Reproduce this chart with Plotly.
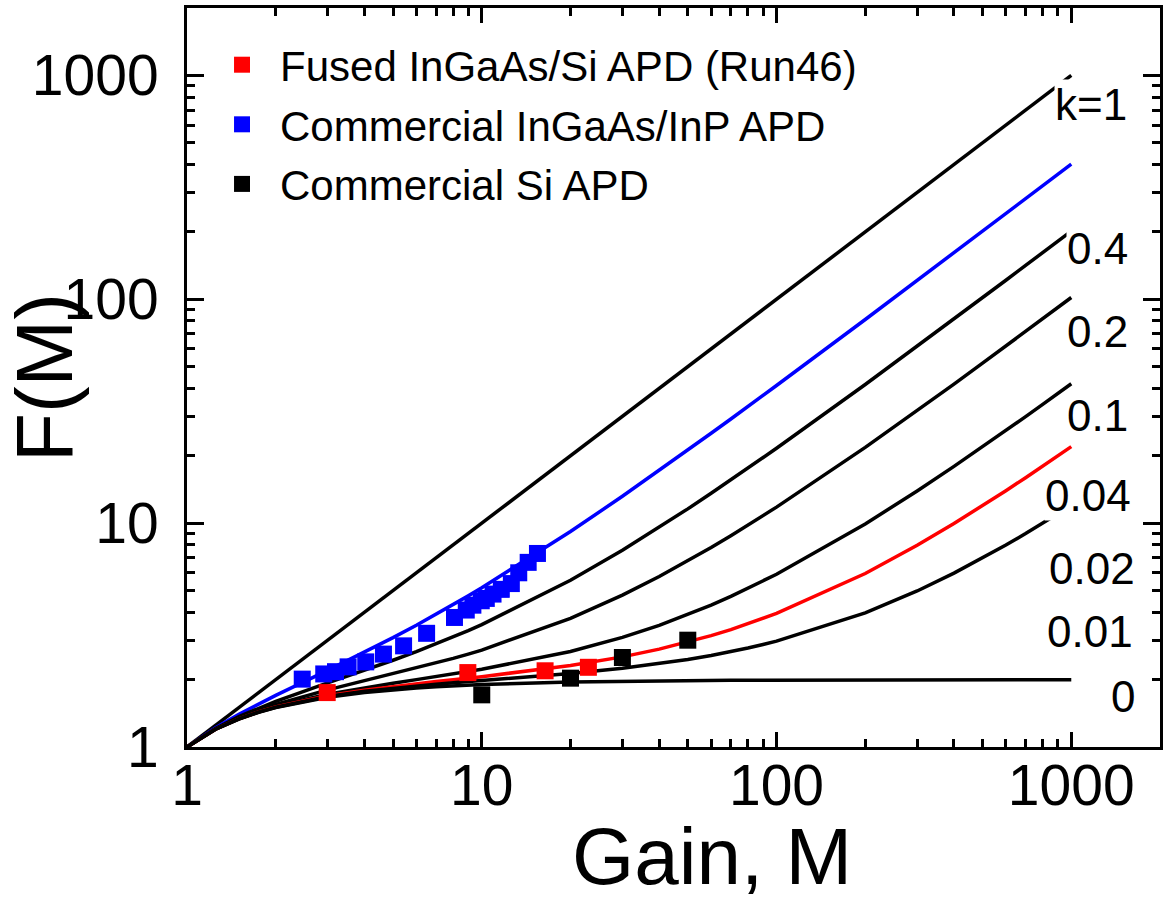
import plotly.graph_objects as go

# Gain grid for the theoretical excess-noise curves
gain = [1, 1.25, 1.5, 1.75, 2, 3, 4, 5, 6, 7, 8, 9, 10, 20, 30, 40, 50, 60, 70, 80, 90, 100,
        200, 300, 400, 500, 600, 700, 800, 900, 1000]

f_k1 = [1, 1.25, 1.5, 1.75, 2, 3, 4, 5, 6, 7, 8, 9, 10, 20, 30, 40, 50, 60, 70, 80, 90, 100,
        200, 300, 400, 500, 600, 700, 800, 900, 1000]
f_k04 = [1, 1.22, 1.4, 1.557, 1.7, 2.2, 2.65, 3.08, 3.5, 3.914, 4.325, 4.733, 5.14, 9.17, 13.18, 17.19,
         21.19, 25.19, 29.19, 33.19, 37.19, 41.19, 81.2, 121.2, 161.2, 201.2, 241.2, 281.2, 321.2, 361.2, 401.2]
f_k02 = [1, 1.21, 1.367, 1.493, 1.6, 1.933, 2.2, 2.44, 2.667, 2.886, 3.1, 3.311, 3.52, 5.56, 7.573, 9.58,
         11.58, 13.59, 15.59, 17.59, 19.59, 21.59, 41.6, 61.6, 81.6, 101.6, 121.6, 141.6, 161.6, 181.6, 201.6]
f_k01 = [1, 1.205, 1.35, 1.461, 1.55, 1.8, 1.975, 2.12, 2.25, 2.371, 2.488, 2.6, 2.71, 3.755, 4.77, 5.778,
         6.782, 7.785, 8.787, 9.789, 10.79, 11.79, 21.8, 31.8, 41.8, 51.8, 61.8, 71.8, 81.8, 91.8, 101.8]
f_k004 = [1, 1.202, 1.34, 1.441, 1.52, 1.72, 1.84, 1.928, 2.0, 2.063, 2.12, 2.173, 2.224, 2.672, 3.088, 3.496,
          3.901, 4.304, 4.706, 5.108, 5.509, 5.91, 9.915, 13.92, 17.92, 21.92, 25.92, 29.92, 33.92, 37.92, 41.92]
f_k002 = [1, 1.201, 1.337, 1.435, 1.51, 1.693, 1.795, 1.864, 1.917, 1.96, 1.998, 2.031, 2.062, 2.311, 2.527,
          2.736, 2.94, 3.144, 3.346, 3.548, 3.749, 3.95, 5.955, 7.957, 9.958, 11.96, 13.96, 15.96, 17.96, 19.96, 21.96]
f_k001 = [1, 1.2005, 1.335, 1.432, 1.505, 1.68, 1.773, 1.832, 1.875, 1.909, 1.936, 1.96, 1.981, 2.131, 2.247,
          2.355, 2.46, 2.564, 2.666, 2.768, 2.869, 2.97, 3.975, 4.977, 5.978, 6.978, 7.978, 8.979, 9.979, 10.98, 11.98]
f_k0 = [1, 1.2, 1.333, 1.429, 1.5, 1.667, 1.75, 1.8, 1.833, 1.857, 1.875, 1.889, 1.9, 1.95, 1.967, 1.975,
        1.98, 1.983, 1.986, 1.988, 1.989, 1.99, 1.995, 1.997, 1.998, 1.998, 1.998, 1.999, 1.999, 1.999, 1.999]

# Measured data
fused_gain = [2.99, 8.97, 16.4, 23.0]
fused_f = [1.75, 2.15, 2.19, 2.27]

ingaas_gain = [2.46, 2.91, 3.19, 3.52, 4.04, 4.64, 5.43, 6.50, 8.08, 8.86, 9.33, 9.96, 10.36,
               10.92, 11.65, 12.6, 13.35, 14.37, 15.45]
ingaas_f = [2.01, 2.12, 2.17, 2.28, 2.40, 2.60, 2.83, 3.22, 3.79, 4.09, 4.30, 4.50, 4.61,
            4.82, 5.06, 5.37, 6.0, 6.68, 7.32]

si_gain = [10, 20, 30, 50]
si_f = [1.71, 2.03, 2.51, 3.0]

# Curve labels (text, paper x, paper y)
label_text = ["k=1", "0.4", "0.2", "0.1", "0.04", "0.02", "0.01", "0"]
label_x = [0.929, 0.936, 0.936, 0.936, 0.926, 0.930, 0.928, 0.962]
label_y = [0.869, 0.675, 0.562, 0.448, 0.341, 0.242, 0.156, 0.069]

tick_vals = [1, 10, 100, 1000]
tick_text = ["1", "10", "100", "1000"]
minor_vals = [m * d for d in (1, 10, 100, 1000) for m in range(2, 10)]

FONT = "Liberation Sans, Arial, sans-serif"

fig = go.Figure()

curves = [(f_k1, "black"), (f_k04, "#0000ff"), (f_k02, "black"), (f_k01, "black"),
          (f_k004, "black"), (f_k002, "#ff0000"), (f_k001, "black"), (f_k0, "black")]
for ys, col in curves:
    fig.add_trace(go.Scatter(x=gain, y=ys, mode="lines", line=dict(color=col, width=3.5),
                             showlegend=False, hoverinfo="skip"))

fig.add_trace(go.Scatter(x=fused_gain, y=fused_f, mode="markers", name="Fused InGaAs/Si APD (Run46)",
                         marker=dict(symbol="square", size=17, color="#ff0000"), legendgroup="a"))
fig.add_trace(go.Scatter(x=ingaas_gain, y=ingaas_f, mode="markers", name="Commercial InGaAs/InP APD",
                         marker=dict(symbol="square", size=17, color="#0000ff"), legendgroup="b"))
fig.add_trace(go.Scatter(x=si_gain, y=si_f, mode="markers", name="Commercial Si APD",
                         marker=dict(symbol="square", size=17, color="black"), legendgroup="c"))

for t, x, y in zip(label_text, label_x, label_y):
    fig.add_annotation(text=t, x=x, y=y, xref="paper", yref="paper", showarrow=False,
                       xanchor="center", yanchor="middle", bgcolor="white", borderpad=0,
                       font=dict(family=FONT, size=44, color="black"))

# x-axis title (offset to the right as in the original)
fig.add_annotation(text="Gain, M", x=0.54, y=-0.21, xref="paper", yref="paper", showarrow=False,
                   xanchor="center", yanchor="bottom", borderpad=0,
                   font=dict(family=FONT, size=80, color="black"))

axis_common = dict(type="log", showline=True, linecolor="black", linewidth=3, mirror="ticks",
                   ticks="inside", tickwidth=2.5, tickcolor="black", showgrid=False, zeroline=False,
                   automargin=False,
                   tickvals=tick_vals, ticktext=tick_text,
                   tickfont=dict(family=FONT, size=57, color="black"),
                   minor=dict(tickvals=minor_vals, ticks="inside", ticklen=8, tickwidth=2.5,
                              tickcolor="black", showgrid=False))

fig.update_xaxes(**axis_common, range=[0, 3.301], ticklen=15, ticklabelstandoff=-13)
fig.update_yaxes(**axis_common, range=[0, 3.301], ticklen=17, ticklabelstandoff=14,
                 title=dict(text="F(M)", font=dict(family=FONT, size=80, color="black"), standoff=0))

fig.update_layout(
    width=1171, height=903,
    margin=dict(l=187, r=11, t=8, b=156),
    paper_bgcolor="white", plot_bgcolor="white",
    font=dict(family=FONT, color="black"),
    legend=dict(x=0.0175, y=0.969, xanchor="left", yanchor="top", bgcolor="rgba(0,0,0,0)",
                font=dict(family=FONT, size=42, color="black"), tracegroupgap=2, itemwidth=66),
)

fig.write_html("out.html", config={"displayModeBar": False},
               post_script="document.body.style.margin='0';")
